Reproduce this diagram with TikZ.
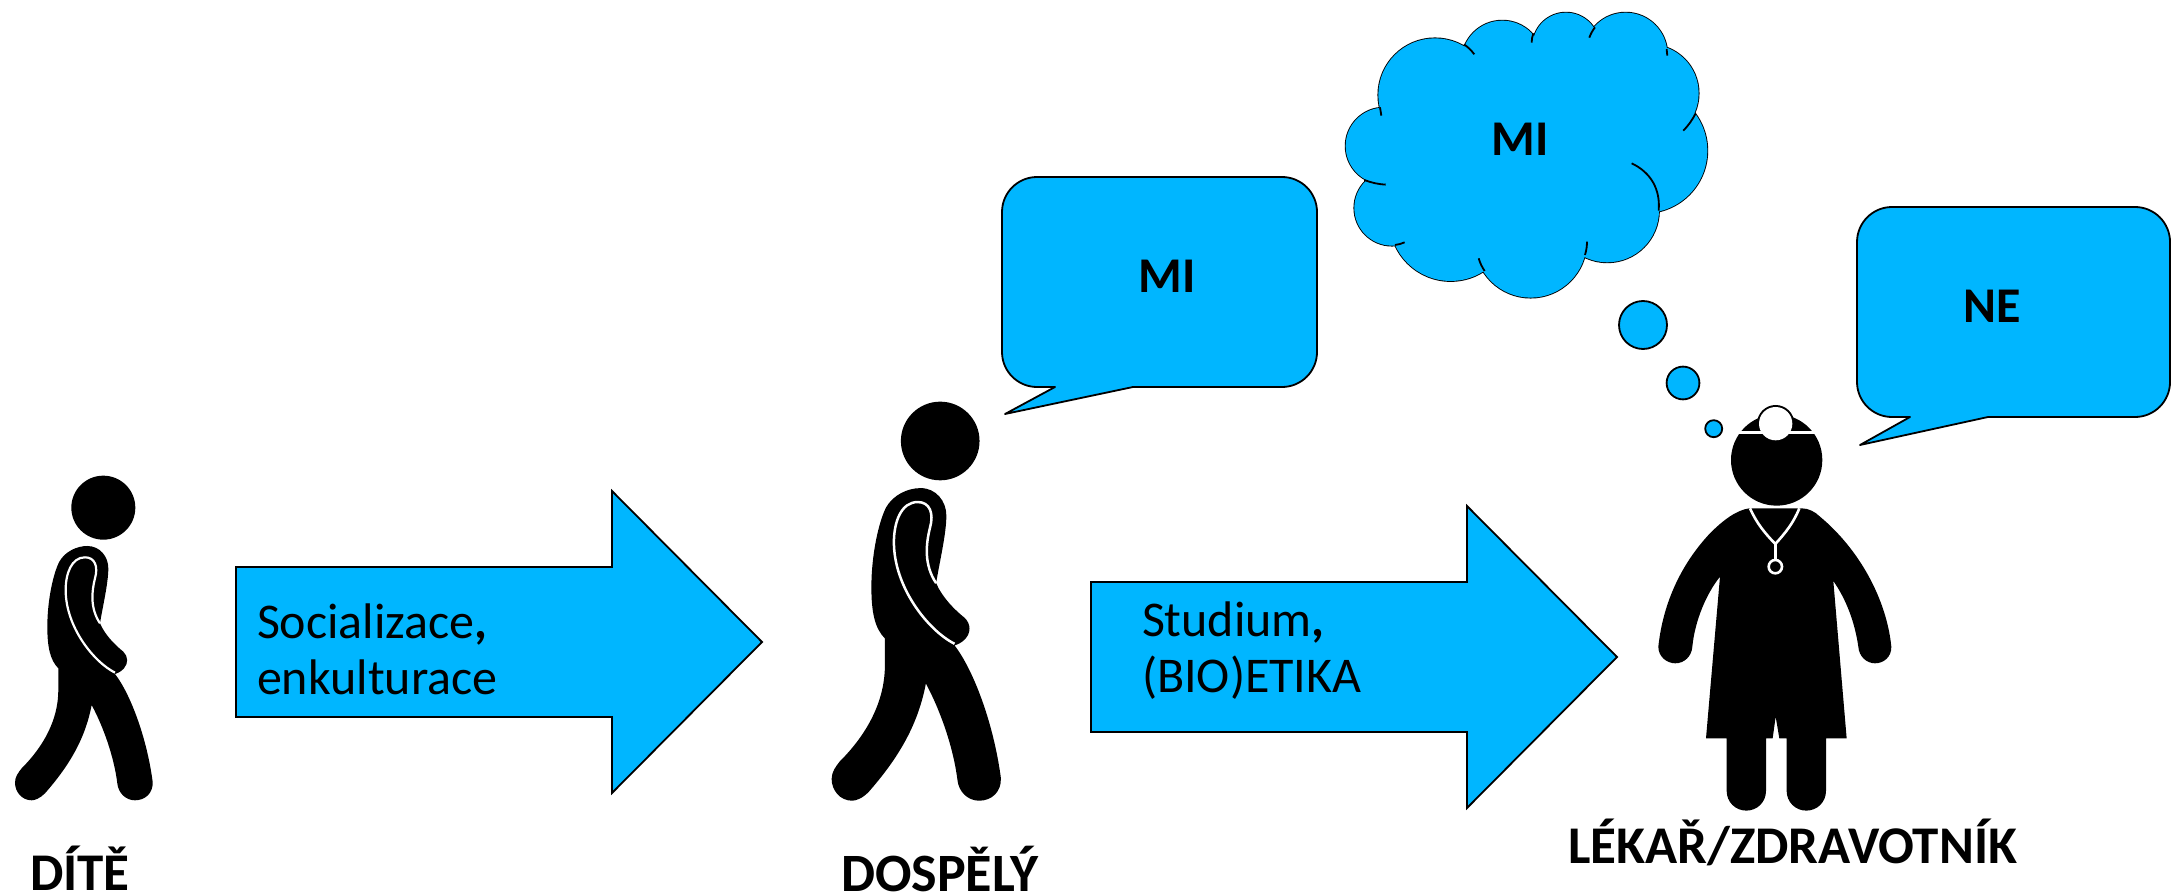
\documentclass[tikz,border=0pt]{standalone}
\usepackage{fontspec}
\setmainfont{Carlito}
\definecolor{skyfill}{HTML}{00B6FF}
\tikzset{
  bluebox/.style={draw=black,fill=skyfill,line width=1.8pt,line join=round},
  plainlabel/.style={inner sep=0pt,outer sep=0pt,font=\fontsize{50}{56}\selectfont,align=left,anchor=north west},
  boldlabel/.style={inner sep=0pt,outer sep=0pt,font=\fontsize{53}{57}\selectfont\bfseries,anchor=base west},
  bubblelabel/.style={inner sep=0pt,outer sep=0pt,font=\fontsize{50}{57}\selectfont\bfseries,anchor=base},
  stub/.style={line width=1.8pt,draw=black}
}
\newcommand{\walkerfig}[4]{%
  \begin{scope}[shift={(#1,#2)},x=#3pt,y=-#3pt]
    \fill[black] (310,143) circle (96);
    \fill[black] (175,625) .. controls (150,600) and (142,560) .. (142,500)
      .. controls (142,420) and (160,340) .. (178,305)
      .. controls (195,275) and (230,258) .. (262,258)
      .. controls (300,258) and (325,290) .. (325,325)
      .. controls (325,370) and (308,440) .. (300,490)
      .. controls (315,525) and (345,555) .. (370,575)
      .. controls (385,590) and (385,610) .. (372,625)
      .. controls (362,637) and (350,640) .. (345,642)
      .. controls (390,700) and (440,830) .. (458,965)
      .. controls (460,1000) and (435,1021) .. (405,1021)
      .. controls (378,1021) and (355,1000) .. (352,970)
      .. controls (342,890) and (310,800) .. (275,735)
      .. controls (255,840) and (205,920) .. (135,1000)
      .. controls (120,1015) and (105,1021) .. (95,1021)
      .. controls (65,1021) and (45,995) .. (45,968)
      .. controls (45,950) and (55,938) .. (65,925)
      .. controls (130,860) and (175,780) .. (175,690) -- cycle;
    \draw[white,line width=#4pt] (345,638) .. controls (280,605) and (197,500) .. (197,390)
      .. controls (197,340) and (215,292) .. (255,292)
      .. controls (285,292) and (295,320) .. (285,355)
      .. controls (275,395) and (270,445) .. (300,490);
  \end{scope}}
\begin{document}
\begin{tikzpicture}[x=1pt,y=-1pt]
\useasboundingbox (0,0) rectangle (2171,896);
% arrows
\draw[bluebox,line join=miter] (236,567) -- (612,567) -- (612,491) -- (762,642) -- (612,793) -- (612,717) -- (236,717) -- cycle;
\draw[bluebox,line join=miter] (1091,582) -- (1467,582) -- (1467,506) -- (1617,657) -- (1467,808) -- (1467,732) -- (1091,732) -- cycle;
\node[plainlabel] (soc) at (257,604) {Socializace{\bfseries ,}\\enkulturace};
\node[plainlabel] (stu) at (1142,602) {Studium{\bfseries ,}\\(BIO)ETIKA};
% speech bubbles
\draw[bluebox] (1055,387) -- (1005,414) -- (1133,387) -- (1282,387)
  .. controls (1301.3,387) and (1317,371.3) .. (1317,352) -- (1317,212)
  .. controls (1317,192.7) and (1301.3,177) .. (1282,177) -- (1037,177)
  .. controls (1017.7,177) and (1002,192.7) .. (1002,212) -- (1002,352)
  .. controls (1002,371.3) and (1017.7,387) .. (1037,387) -- cycle;
\draw[bluebox] (1910,417) -- (1860,445) -- (1988,417) -- (2135,417)
  .. controls (2154.3,417) and (2170,401.3) .. (2170,382) -- (2170,242)
  .. controls (2170,222.7) and (2154.3,207) .. (2135,207) -- (1892,207)
  .. controls (1872.7,207) and (1857,222.7) .. (1857,242) -- (1857,382)
  .. controls (1857,401.3) and (1872.7,417) .. (1892,417) -- cycle;
\node[bubblelabel] (mia) at (1167,292) {MI};
\node[bubblelabel] (ne) at (1992,322) {NE};
% thought cloud
\begin{scope}[shift={(1320,0)},x=.3333pt,y=-.3333pt]
  \def\lobes{(345,285) circle (170) (547,184) circle (122) (738,138) circle (100) (917,163) circle (125) (990,280) circle (146) (975,452) circle (187) (862,632) circle (155) (632,725) circle (168) (392,660) circle (183) (216,624) circle (113) (192,438) circle (115)}
  \draw[bluebox] \lobes;
  \fill[skyfill] \lobes;
  \fill[skyfill] (345,285) -- (738,138) -- (990,280) -- (975,452) -- (632,725) -- (216,624) -- cycle;
  \draw[stub] (432,133) to[bend left=8] (463,163);
  \draw[stub] (640,100) to[bend right=8] (635,128);
  \draw[stub] (825,82) to[bend right=8] (808,113);
  \draw[stub] (1040,147) to[bend left=3] (1042,167);
  \draw[stub] (1127,340) to[bend left=8] (1090,392);
  \draw[stub] (935,490) to[bend left=35] (1016,632);
  \draw[stub] (795,765) to[bend right=8] (801,725);
  \draw[stub] (494,813) to[bend left=8] (476,775);
  \draw[stub] (225,735) to[bend right=8] (254,727);
  \draw[stub] (133,540) to[bend right=8] (197,554);
  \draw[stub] (180,322) to[bend right=4] (184,347);
\end{scope}
\node[bubblelabel] (mib) at (1520,156) {MI};
\draw[bluebox] (1643,325) circle (24);
\draw[bluebox] (1683,383) circle (16.4);
\draw[bluebox] (1713.7,428.7) circle (8.5);
% walking figures
\walkerfig{0}{460}{.3333}{2.2}
\walkerfig{813.2}{382.4}{.4097}{2.5}
% doctor
\begin{scope}[shift={(1620,380)},x=.3333pt,y=-.3333pt]
  \fill[black] (470,240) circle (137);
  \fill[black] (467,131) circle (56);
  \draw[white,line width=2.6pt] (340,157) -- (600,157);
  \fill[white] (467,131) circle (50);
  \fill[black] (388,385)
    .. controls (350,390) and (310,420) .. (270,460)
    .. controls (190,545) and (130,660) .. (115,800)
    .. controls (115,830) and (140,850) .. (166,850)
    .. controls (192,850) and (215,830) .. (217,800)
    .. controls (225,720) and (260,640) .. (300,590)
    -- (258,1075) -- (320,1075) -- (320,1233)
    .. controls (320,1266) and (346,1292) .. (379,1292)
    .. controls (412,1292) and (438,1266) .. (438,1233)
    -- (438,1075) -- (458,1075) -- (467,1010) -- (478,1075) -- (500,1075) -- (500,1233)
    .. controls (500,1266) and (526,1292) .. (559,1292)
    .. controls (592,1292) and (618,1266) .. (618,1233)
    -- (618,1075) -- (680,1075) -- (640,603)
    .. controls (680,660) and (705,730) .. (715,800)
    .. controls (717,830) and (740,850) .. (765,850)
    .. controls (792,850) and (815,830) .. (814,800)
    .. controls (800,660) and (720,510) .. (600,410)
    .. controls (585,395) and (565,385) .. (545,385) -- cycle;
  \draw[white,line width=2.6pt] (390,385) .. controls (410,430) and (435,460) .. (466,492) .. controls (495,460) and (520,430) .. (538,385);
  \draw[white,line width=2.6pt] (466,492) -- (466,540);
  \draw[white,line width=2.6pt] (466,560) circle (20);
\end{scope}
% labels
\node[boldlabel] (dite) at (30,890) {DÍTĚ};
\node[boldlabel,font=\fontsize{54}{57}\selectfont\bfseries] (dosp) at (841,891) {DOSPĚLÝ};
\node[boldlabel] (lek) at (1568,863) {LÉKAŘ/ZDRAVOTNÍK};
\end{tikzpicture}
\end{document}
